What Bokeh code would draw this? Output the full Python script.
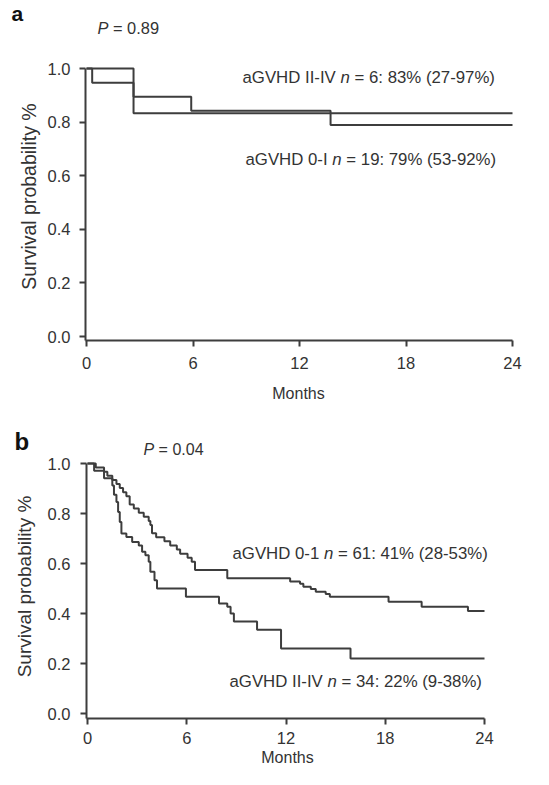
import math
from bokeh.plotting import figure
from bokeh.models import Label, FixedTicker, PrintfTickFormatter, Range1d
from bokeh.layouts import column
from bokeh.embed import file_html
from bokeh.resources import INLINE

# ---------------- data ----------------
month_ticks = [0, 6, 12, 18, 24]
surv_ticks = [0.0, 0.2, 0.4, 0.6, 0.8, 1.0]

# panel a : aGVHD II-IV (n = 6) and aGVHD 0-I (n = 19)
a_g24_t = [0, 2.65, 24]
a_g24_s = [1.0, 0.833, 0.833]
a_g01_t = [0, 0.32, 2.65, 5.9, 13.75, 24]
a_g01_s = [1.0, 0.947, 0.895, 0.842, 0.789, 0.789]

# panel b : aGVHD 0-1 (n = 61) and aGVHD II-IV (n = 34)
b_g01_t = [0, 0.5, 1.0, 1.2, 1.5, 1.75, 1.95, 2.15, 2.35, 2.55, 2.8, 3.1, 3.4, 3.7, 3.8, 3.9,
           4.15, 4.65, 5.0, 5.4, 5.6, 6.05, 6.3, 6.5, 8.45, 12.25, 12.85, 13.05, 13.5, 13.8,
           14.4, 14.65, 18.2, 20.2, 23.0, 24.0]
b_g01_s = [1.0, 0.984, 0.967, 0.951, 0.934, 0.918, 0.902, 0.885, 0.869, 0.836, 0.820, 0.803,
           0.787, 0.770, 0.754, 0.721, 0.705, 0.689, 0.672, 0.656, 0.639, 0.623, 0.607, 0.574,
           0.541, 0.528, 0.519, 0.507, 0.498, 0.487, 0.478, 0.467, 0.447, 0.427, 0.41, 0.41]
b_g24_t = [0, 0.4, 1.0, 1.5, 1.6, 1.75, 1.85, 1.95, 2.05, 2.35, 2.7, 3.1, 3.3, 3.5, 3.7, 3.8,
           4.05, 4.2, 5.95, 7.95, 8.45, 8.65, 8.85, 10.25, 11.7, 15.9, 24.0]
b_g24_s = [1.0, 0.971, 0.941, 0.912, 0.875, 0.846, 0.806, 0.766, 0.72, 0.706, 0.686, 0.672,
           0.647, 0.633, 0.607, 0.567, 0.533, 0.50, 0.467, 0.44, 0.427, 0.40, 0.368, 0.335,
           0.26, 0.22, 0.22]

FONT = "Liberation Sans"
TXT = "#333333"
LINE = "#3d3d3d"
W_FIG = 541

W = {' ': 278, 'a': 556, 'G': 778, 'V': 667, 'H': 722, 'D': 722, 'I': 278, '-': 333,
     'n': 556, '=': 584, ':': 278, '%': 889, '(': 333, ')': 333, 'P': 667, '.': 278}
for d in "0123456789":
    W[d] = 556


def tw(s, size):
    return sum(W.get(c, 556) for c in s) * size / 1000.0


class Panel:
    """figure whose frame fills the canvas; axes sit at fixed data locations"""

    def __init__(self, h, x0px, x24px, y1px, y0px, yaxis_px, xaxis_px, tick_fs, lab_sd_x, lab_sd_y):
        self.h = h
        kx = (x24px - x0px) / 24.0
        ky = (y0px - y1px) / 1.0
        self.xs = -x0px / kx
        self.xe = (W_FIG - x0px) / kx
        self.yt = 1.0 + y1px / ky
        self.yb = -(h - y0px) / ky
        p = figure(width=W_FIG, height=h, x_range=Range1d(self.xs, self.xe),
                   y_range=Range1d(self.yb, self.yt), output_backend="svg",
                   toolbar_location=None, min_border=0, min_border_left=0,
                   min_border_right=0, min_border_top=0, min_border_bottom=0)
        p.grid.visible = False
        p.outline_line_color = None
        p.background_fill_color = "white"
        p.border_fill_color = "white"
        yax = self.dx(yaxis_px)
        xax = self.dy(xaxis_px)
        p.xaxis.fixed_location = xax
        p.yaxis.fixed_location = yax
        p.xaxis.bounds = (yax, 24)
        p.yaxis.bounds = (xax, 1.0)
        p.xaxis.ticker = FixedTicker(ticks=month_ticks)
        p.yaxis.ticker = FixedTicker(ticks=surv_ticks)
        p.yaxis.formatter = PrintfTickFormatter(format="%.1f")
        for ax in (p.xaxis, p.yaxis):
            ax.axis_line_width = 2
            ax.axis_line_color = LINE
            ax.major_tick_line_width = 2
            ax.major_tick_line_color = LINE
            ax.major_tick_out = 6
            ax.major_tick_in = 0
            ax.minor_tick_line_color = None
            ax.major_label_text_font = FONT
            ax.major_label_text_font_size = f"{tick_fs}px"
            ax.major_label_text_color = TXT
        p.xaxis.major_label_standoff = lab_sd_x
        p.yaxis.major_label_standoff = lab_sd_y
        self.p = p

    def dx(self, px):
        return self.xs + px / W_FIG * (self.xe - self.xs)

    def dy(self, py):
        return self.yt - py / self.h * (self.yt - self.yb)

    def label(self, px, py, text, size, style="normal", align="left", angle=0.0, color=TXT):
        self.p.add_layout(Label(x=self.dx(px), y=self.dy(py), text=text, text_font=FONT,
                                text_font_size=f"{size}px", text_font_style=style,
                                text_align=align, text_baseline="middle", angle=angle,
                                text_color=color))

    def mixed(self, px, py, parts, size):
        off = 0.0
        for txt, style in parts:
            self.p.add_layout(Label(x=self.dx(px), y=self.dy(py), x_offset=off, text=txt,
                                    text_font=FONT, text_font_size=f"{size}px",
                                    text_font_style=style, text_baseline="middle",
                                    text_align="left", text_color=TXT))
            off += tw(txt, size) + tw(" ", size)


ANN = 16.8

# ---------------- panel a ----------------
A = Panel(410, x0px=86, x24px=512, y1px=68, y0px=336, yaxis_px=85, xaxis_px=340,
          tick_fs=16.5, lab_sd_x=10, lab_sd_y=9)
A.p.step(a_g01_t, a_g01_s, mode="after", line_width=2, line_color=LINE)
A.p.step(a_g24_t, a_g24_s, mode="after", line_width=2, line_color=LINE)
A.label(11, 13, "a", 21, style="bold", color="#111111")
A.mixed(97, 27, [("P", "italic"), ("= 0.89", "normal")], 16.4)
A.mixed(242, 77, [("aGVHD II-IV", "normal"), ("n", "italic"), ("= 6: 83% (27-97%)", "normal")], ANN)
A.mixed(245, 159, [("aGVHD 0-I", "normal"), ("n", "italic"), ("= 19: 79% (53-92%)", "normal")], ANN)
A.label(28, 196, "Survival probability %", 19.5, align="center", angle=math.pi / 2)
A.label(298, 393, "Months", 16, align="center")

# ---------------- panel b ----------------
B = Panel(359, x0px=87, x24px=484, y1px=53, y0px=303, yaxis_px=86, xaxis_px=308,
          tick_fs=16.5, lab_sd_x=7, lab_sd_y=10)
B.p.step(b_g01_t, b_g01_s, mode="after", line_width=2, line_color=LINE)
B.p.step(b_g24_t, b_g24_s, mode="after", line_width=2, line_color=LINE)
B.label(14, 31, "b", 24, style="bold", color="#111111")
B.mixed(143, 39, [("P", "italic"), ("= 0.04", "normal")], 16)
B.mixed(232, 143, [("aGVHD 0-1", "normal"), ("n", "italic"), ("= 61: 41% (28-53%)", "normal")], ANN)
B.mixed(229, 271, [("aGVHD II-IV", "normal"), ("n", "italic"), ("= 34: 22% (9-38%)", "normal")], ANN)
B.label(24, 176, "Survival probability %", 19, align="center", angle=math.pi / 2)
B.label(287, 347, "Months", 16, align="center")

lay = column(A.p, B.p, spacing=0)
open("out.html", "w").write(file_html(lay, INLINE))
